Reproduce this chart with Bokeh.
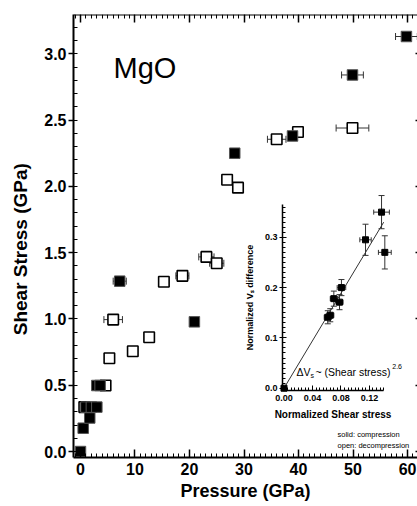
import math
from bokeh.plotting import figure
from bokeh.models import (Range1d, LinearAxis, SingleIntervalTicker, Label,
                          NumeralTickFormatter, CustomJSTickFormatter)
from bokeh.embed import file_html
from bokeh.resources import INLINE

# ---------------- data ----------------
# compression (solid squares)
comp_p = [0.0, 0.5, 1.7, 1.0, 2.0, 3.0, 3.0, 3.6, 7.2, 20.9, 28.3, 38.9, 49.9, 59.8]
comp_s = [0.0, 0.176, 0.253, 0.335, 0.335, 0.335, 0.498, 0.498, 1.285, 0.978, 2.25, 2.38, 2.84, 3.13]
comp_perr = [0, 0, 0, 0, 0, 0, 0, 0, 1.2, 0, 0, 0, 2.0, 2.0]

# decompression (open squares)
decomp_p = [0.7, 4.6, 5.3, 6.0, 9.6, 12.6, 15.3, 18.7, 23.1, 25.0, 26.9, 28.9, 36.0, 39.9, 49.9]
decomp_s = [0.335, 0.498, 0.704, 0.995, 0.756, 0.862, 1.28, 1.325, 1.468, 1.42, 2.05, 1.99, 2.355, 2.41, 2.44]
decomp_perr = [0, 0, 0, 1.7, 0, 0, 0, 1.2, 1.4, 1.3, 0, 0, 1.7, 0, 3.0]

# inset: normalized shear stress vs normalized Vs difference
ins_x = [0.0, 0.0615, 0.065, 0.070, 0.078, 0.0807, 0.1145, 0.137, 0.1416]
ins_y = [0.0, 0.141, 0.145, 0.178, 0.171, 0.200, 0.295, 0.350, 0.270]
ins_xerr = [0, 0.005, 0.005, 0.005, 0.005, 0.006, 0.008, 0.011, 0.009]
ins_yerr = [0, 0.013, 0.013, 0.015, 0.015, 0.016, 0.031, 0.033, 0.033]
fit_x = [0.0, 0.140]
fit_y = [0.0, 0.330]

FONT = "Liberation Sans"

# ---------------- figure ----------------
p = figure(frame_width=344, frame_height=443,
           x_range=Range1d(-1.28, 61.83), y_range=Range1d(-0.045, 3.296),
           output_backend="svg", toolbar_location=None,
           min_border_left=73, min_border_right=0, min_border_top=14, min_border_bottom=48)
p.outline_line_color = None
p.xgrid.visible = False
p.ygrid.visible = False
p.background_fill_color = "white"
p.border_fill_color = "white"

p.extra_x_ranges = {"ix": Range1d(-0.2956, 0.1875)}
p.extra_y_ranges = {"iy": Range1d(-0.1378, 0.7429)}

# main bottom axis
xa = p.xaxis[0]
xa.ticker = SingleIntervalTicker(interval=10, num_minor_ticks=10)
xa.major_tick_in = 8
xa.major_tick_out = 0
xa.minor_tick_in = 4
xa.minor_tick_out = 0
xa.axis_line_width = 2
xa.major_tick_line_width = 1.5
xa.major_label_text_font = FONT
xa.major_label_text_font_style = "bold"
xa.major_label_text_font_size = "16px"
xa.major_label_text_color = "black"
xa.major_label_standoff = 5
xa.axis_label = "Pressure (GPa)"
xa.axis_label_text_font = FONT
xa.axis_label_text_font_style = "bold"
xa.axis_label_text_font_size = "18px"
xa.axis_label_text_color = "black"
xa.axis_label_standoff = 3

# main left axis
ya = p.yaxis[0]
ya.ticker = SingleIntervalTicker(interval=0.5, num_minor_ticks=5)
ya.formatter = NumeralTickFormatter(format="0.0")
ya.major_tick_in = 0
ya.major_tick_out = 5
ya.minor_tick_in = 4
ya.minor_tick_out = 0
ya.axis_line_width = 2
ya.major_tick_line_width = 1.5
ya.major_label_text_font = FONT
ya.major_label_text_font_style = "bold"
ya.major_label_text_font_size = "16px"
ya.major_label_text_color = "black"
ya.major_label_standoff = 2
ya.axis_label = "Shear Stress (GPa)" + "\u00a0" * 5
ya.axis_label_text_font = FONT
ya.axis_label_text_font_style = "bold"
ya.axis_label_text_font_size = "19px"
ya.axis_label_text_color = "black"
ya.axis_label_standoff = 10

blank = CustomJSTickFormatter(code="return ''")

# top axis (ticks only)
ta = LinearAxis(ticker=SingleIntervalTicker(interval=10, num_minor_ticks=10),
                fixed_location=3.296, formatter=blank,
                major_tick_in=8, major_tick_out=0, minor_tick_in=4, minor_tick_out=0,
                axis_line_width=2, major_tick_line_width=1.5)
p.add_layout(ta, "above")

# right axis (only inward major ticks visible at the cropped edge)
ra = LinearAxis(ticker=SingleIntervalTicker(interval=0.5, num_minor_ticks=0),
                fixed_location=62.2, formatter=blank, axis_line_color=None,
                major_tick_in=4, major_tick_out=0, minor_tick_line_color=None,
                major_tick_line_width=1.5)
p.add_layout(ra, "right")

# inset axes
il = LinearAxis(x_range_name="ix", y_range_name="iy", fixed_location=-0.002,
                bounds=(-0.005, 0.365),
                ticker=SingleIntervalTicker(interval=0.1, num_minor_ticks=10),
                formatter=NumeralTickFormatter(format="0.0"),
                major_tick_in=4, major_tick_out=3, minor_tick_in=3, minor_tick_out=0,
                axis_line_width=1.5,
                major_label_text_font=FONT, major_label_text_font_style="bold",
                major_label_text_font_size="9px", major_label_standoff=2,
                major_label_text_color="black",
                axis_label="Normalized V\u209b difference",
                axis_label_text_font=FONT, axis_label_text_font_style="bold",
                axis_label_text_font_size="9px", axis_label_standoff=7,
                axis_label_text_color="black")
p.add_layout(il, "left")

ib = LinearAxis(x_range_name="ix", y_range_name="iy", fixed_location=-0.005,
                bounds=(-0.002, 0.140),
                ticker=SingleIntervalTicker(interval=0.04, num_minor_ticks=8),
                formatter=NumeralTickFormatter(format="0.00"),
                major_tick_in=5, major_tick_out=0, minor_tick_in=3, minor_tick_out=0,
                axis_line_width=1.5,
                major_label_text_font=FONT, major_label_text_font_style="bold",
                major_label_text_font_size="9px", major_label_standoff=4,
                major_label_text_color="black",
                axis_label="Normalized Shear stress",
                axis_label_text_font=FONT, axis_label_text_font_style="bold",
                axis_label_text_font_size="10px", axis_label_standoff=5,
                axis_label_text_color="black")
p.add_layout(ib, "below")

# ---------------- main error bars ----------------
def hbars(xs, ys, errs):
    x0 = [x - e for x, y, e in zip(xs, ys, errs) if e > 0]
    x1 = [x + e for x, y, e in zip(xs, ys, errs) if e > 0]
    yy = [y for x, y, e in zip(xs, ys, errs) if e > 0]
    return x0, x1, yy

for xs, ys, es in [(decomp_p, decomp_s, decomp_perr), (comp_p, comp_s, comp_perr)]:
    x0, x1, yy = hbars(xs, ys, es)
    p.segment(x0=x0, y0=yy, x1=x1, y1=yy, line_color="#333333", line_width=1)
    p.scatter(x=x0 + x1, y=yy + yy, marker="dash", angle=math.pi / 2, size=7,
              line_color="#333333", line_width=1)

# markers: open first, solid on top
p.scatter(x=decomp_p, y=decomp_s, marker="square", size=10.5,
          fill_color="white", line_color="black", line_width=1.6)
p.scatter(x=comp_p, y=comp_s, marker="square", size=10.5,
          fill_color="black", line_color="#555555", line_width=1)

# ---------------- inset ----------------
p.line(x=fit_x, y=fit_y, x_range_name="ix", y_range_name="iy",
       line_color="#333333", line_width=1)

ix0 = [x - e for x, e in zip(ins_x, ins_xerr) if e > 0]
ix1 = [x + e for x, e in zip(ins_x, ins_xerr) if e > 0]
iyh = [y for y, e in zip(ins_y, ins_xerr) if e > 0]
p.segment(x0=ix0, y0=iyh, x1=ix1, y1=iyh, x_range_name="ix", y_range_name="iy",
          line_color="#333333", line_width=1)
p.scatter(x=ix0 + ix1, y=iyh + iyh, marker="dash", angle=math.pi / 2, size=5,
          x_range_name="ix", y_range_name="iy", line_color="#333333", line_width=1)

iy0 = [y - e for y, e in zip(ins_y, ins_yerr) if e > 0]
iy1 = [y + e for y, e in zip(ins_y, ins_yerr) if e > 0]
ixv = [x for x, e in zip(ins_x, ins_yerr) if e > 0]
p.segment(x0=ixv, y0=iy0, x1=ixv, y1=iy1, x_range_name="ix", y_range_name="iy",
          line_color="#333333", line_width=1)
p.scatter(x=ixv + ixv, y=iy0 + iy1, marker="dash", size=6,
          x_range_name="ix", y_range_name="iy", line_color="#333333", line_width=1)

p.scatter(x=ins_x, y=ins_y, marker="square", size=6, x_range_name="ix", y_range_name="iy",
          fill_color="black", line_color="black")

# ---------------- texts ----------------
p.add_layout(Label(x=6.06, y=2.89, text="MgO", text_align="left",
                   text_baseline="alphabetic", text_font=FONT,
                   text_font_size="29px", text_color="black"))
p.add_layout(Label(x=47.16, y=0.128, text="solid: compression", text_align="left",
                   text_baseline="middle", text_font=FONT, text_font_size="7.5px",
                   text_color="black"))
p.add_layout(Label(x=47.16, y=0.045, text="open: decompression", text_align="left",
                   text_baseline="middle", text_font=FONT, text_font_size="7.5px",
                   text_color="black"))
# inset formula
p.add_layout(Label(x=39.63, y=0.603, text="\u0394V", text_align="left",
                   text_baseline="middle", text_font=FONT, text_font_size="10.5px",
                   text_color="black"))
p.add_layout(Label(x=42.2, y=0.575, text="s", text_align="left",
                   text_baseline="middle", text_font=FONT, text_font_size="7px",
                   text_color="black"))
p.add_layout(Label(x=43.1, y=0.603, text="~ (Shear stress)", text_align="left",
                   text_baseline="middle", text_font=FONT, text_font_size="10.5px",
                   text_color="black"))
p.add_layout(Label(x=57.2, y=0.641, text="2.6", text_align="left",
                   text_baseline="middle", text_font=FONT, text_font_size="7px",
                   text_color="black"))

open("out.html", "w").write(file_html(p, INLINE))
